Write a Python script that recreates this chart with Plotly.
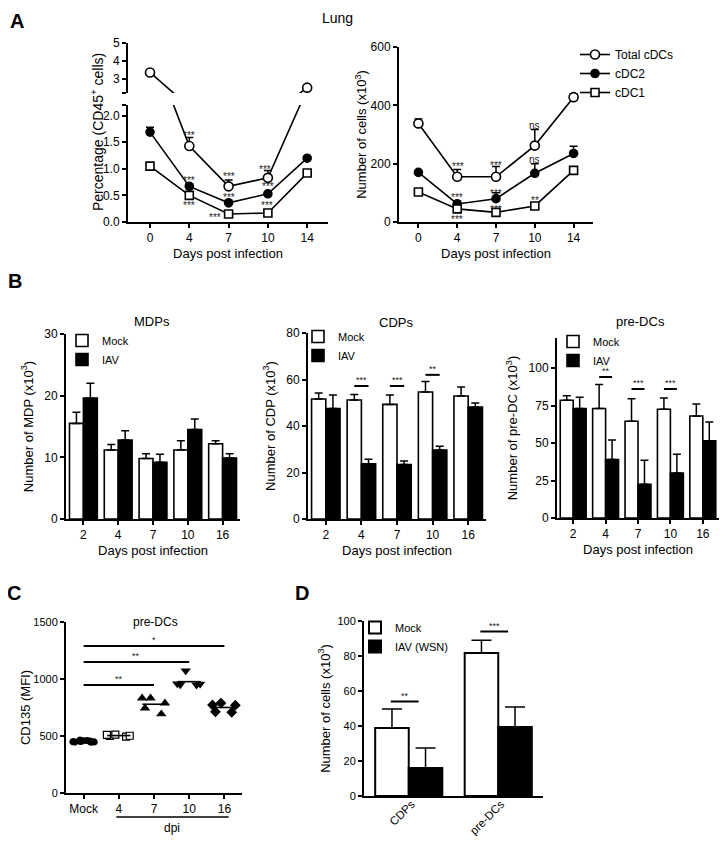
import numpy as np
import plotly.graph_objects as go

# page is 728x844; the html body has an 8px margin on every side, so the figure
# is sized to fit inside it without scrollbars and drawn at page offset (8, 8)
PAGE_W, PAGE_H = 728, 844
OX, OY = 8, 8
W, H = PAGE_W - 2 * OX, PAGE_H - 2 * OY
FONT = "Arial, 'Liberation Sans', Helvetica, sans-serif"

# ---------------- Panel A data ----------------
A_days = ["0", "4", "7", "10", "14"]
pct_total = [3.35, 1.43, 0.67, 0.83, 2.5]
pct_total_err = [0.05, 0.16, 0.12, 0.14, 0.05]
pct_cdc2 = [1.69, 0.67, 0.36, 0.53, 1.2]
pct_cdc2_err = [0.09, 0.05, 0.05, 0.03, 0.02]
pct_cdc1 = [1.05, 0.5, 0.15, 0.17, 0.92]
pct_cdc1_err = [0.03, 0.03, 0.02, 0.02, 0.02]

num_total = [338, 155, 155, 262, 428]
num_total_err = [15, 25, 35, 55, 12]
num_cdc2 = [170, 62, 80, 167, 235]
num_cdc2_err = [4, 10, 20, 33, 25]
num_cdc1 = [103, 45, 33, 55, 177]
num_cdc1_err = [4, 4, 4, 5, 8]

pct_sig_x = [1, 1, 1, 2, 2, 1.66, 2.93, 3.0, 2.98]
pct_sig_y = [1.67, 0.82, 0.35, 0.90, 0.49, 0.13, 1.03, 0.70, 0.34]
pct_sig_text = ["***"] * 9

num_sig_x = [1.03, 2.0, 3.0, 1.0, 2.0, 3.0, 1.0, 2.0, 3.0]
num_sig_y = [198, 202, 332, 92, 106, 215, 14, 51, 79]
num_sig_text = ["***", "***", "ns", "***", "***", "ns", "***", "***", "**"]

# ---------------- Panel B data ----------------
B_days = ["2", "4", "7", "10", "16"]
mdp_mock = [15.5, 11.2, 9.8, 11.2, 12.2]
mdp_mock_err = [1.8, 0.9, 0.8, 1.5, 0.5]
mdp_iav = [19.6, 12.8, 9.2, 14.5, 9.9]
mdp_iav_err = [2.4, 1.5, 1.3, 1.7, 0.7]

cdp_mock = [51.6, 51.2, 49.3, 54.6, 52.9]
cdp_mock_err = [2.6, 2.4, 4.0, 4.5, 3.9]
cdp_iav = [47.5, 23.7, 23.4, 29.7, 48.2]
cdp_iav_err = [5.8, 2.0, 1.5, 1.6, 1.7]
cdp_sig_idx = [1, 2, 3]
cdp_sig_h = [57.2, 57.2, 62.0]
cdp_sig_text = ["***", "***", "**"]

predc_mock = [78.5, 73.0, 64.5, 72.5, 68.0]
predc_mock_err = [3.0, 16.0, 15.0, 7.5, 8.0]
predc_iav = [73.0, 39.0, 22.5, 30.0, 51.5]
predc_iav_err = [7.5, 13.0, 16.0, 12.5, 12.5]
predc_sig_idx = [1, 2, 3]
predc_sig_h = [94.0, 86.0, 86.0]
predc_sig_text = ["**", "***", "***"]

# ---------------- Panel C data ----------------
C_groups = ["Mock", "4", "7", "10", "16"]
mfi_mock = [465, 458, 452, 448, 445, 447, 450, 455, 460]
mfi_d4 = [512, 500, 495, 502, 510]
mfi_d7 = [833, 693, 789, 745, 833]
mfi_d10 = [1072, 950, 955, 948, 958]
mfi_d16 = [770, 789, 712, 708, 772]
c_sig_to = [2, 3, 4]
c_sig_h = [947, 1150, 1290]
c_sig_text = ["**", "**", "*"]

# ---------------- Panel D data ----------------
D_cats = ["CDPs", "pre-DCs"]
d_mock = [38.9, 81.7]
d_mock_err = [10.8, 7.3]
d_iav = [16.0, 39.4]
d_iav_err = [11.4, 11.4]
d_sig_idx = [0, 1]
d_sig_h = [54.0, 94.0]
d_sig_text = ["**", "***"]


def X(px):
    return (px - OX) / W


def Y(py):
    return 1 - (py - OY) / H


def xd(a, b):
    return [X(a), X(b)]


def yd(top, bottom):
    return [Y(bottom), Y(top)]


def up_err(err, width=4):
    return dict(type="data", array=err, arrayminus=[0] * len(err), symmetric=False,
                color="black", thickness=1.5, width=width)


SIGC = "#222222"
fig = go.Figure()

# ---------- Panel A (left: broken axis y lower + y2 upper; right: y3) ----------
xa = np.arange(len(A_days))
series_A = [
    ("Total cDCs", pct_total, pct_total_err, num_total, num_total_err, "circle", "white", 9),
    ("cDC2", pct_cdc2, pct_cdc2_err, num_cdc2, num_cdc2_err, "circle", "black", 8),
    ("cDC1", pct_cdc1, pct_cdc1_err, num_cdc1, num_cdc1_err, "square", "white", 8),
]
for name, pv, pe, nv, ne, sym, fill, size in series_A:
    mk = dict(symbol=sym, size=size, color=fill, line=dict(color="black", width=1.6))
    ln = dict(color="black", width=1.6)
    fig.add_trace(go.Scatter(x=xa, y=pv, mode="lines+markers", marker=mk, line=ln,
                             error_y=up_err(pe), xaxis="x", yaxis="y", showlegend=False, name=name))
    if name == "Total cDCs":
        fig.add_trace(go.Scatter(x=xa, y=pv, mode="lines+markers", marker=mk, line=ln,
                                 error_y=up_err(pe), xaxis="x", yaxis="y2", showlegend=False, name=name))
    fig.add_trace(go.Scatter(x=xa, y=nv, mode="lines+markers", marker=mk, line=ln,
                             error_y=up_err(ne), xaxis="x2", yaxis="y3", showlegend=True,
                             legend="legend", name=name))

for x, y, t in zip(pct_sig_x, pct_sig_y, pct_sig_text):
    fig.add_annotation(x=x, y=y, xref="x", yref="y", text=t, showarrow=False, xanchor="center",
                       yanchor="middle", font=dict(size=10, color=SIGC, family=FONT), yshift=-2)
for x, y, t in zip(num_sig_x, num_sig_y, num_sig_text):
    fig.add_annotation(x=x, y=y, xref="x2", yref="y3", text=t, showarrow=False, xanchor="center",
                       yanchor="middle", font=dict(size=10, color=SIGC, family=FONT),
                       yshift=-2 if "*" in t else 0)

# ---------- Panel B ----------
xb = np.arange(len(B_days))
B_sets = [
    ("x3", "y4", "legend2", mdp_mock, mdp_mock_err, mdp_iav, mdp_iav_err, [], [], []),
    ("x4", "y5", "legend3", cdp_mock, cdp_mock_err, cdp_iav, cdp_iav_err, cdp_sig_idx, cdp_sig_h, cdp_sig_text),
    ("x5", "y6", "legend4", predc_mock, predc_mock_err, predc_iav, predc_iav_err, predc_sig_idx, predc_sig_h, predc_sig_text),
]
for xax, yax, leg, mv, me, iv, ie, sidx, sh, st in B_sets:
    fig.add_trace(go.Bar(x=xb, y=mv, name="Mock", marker=dict(color="white", line=dict(color="black", width=1.6)),
                         error_y=up_err(me), xaxis=xax, yaxis=yax, legend=leg))
    fig.add_trace(go.Bar(x=xb, y=iv, name="IAV", marker=dict(color="black", line=dict(color="black", width=1.6)),
                         error_y=up_err(ie), xaxis=xax, yaxis=yax, legend=leg))
    for i, h, t in zip(sidx, sh, st):
        fig.add_shape(type="line", xref=xax, yref=yax, x0=i - 0.2, x1=i + 0.2, y0=h, y1=h,
                      line=dict(color="black", width=2))
        fig.add_annotation(x=i, y=h, xref=xax, yref=yax, text=t, showarrow=False, xanchor="center",
                           yanchor="bottom", font=dict(size=9, color=SIGC, family=FONT), yshift=-1)

# ---------- Panel C ----------
C_vals = [mfi_mock, mfi_d4, mfi_d7, mfi_d10, mfi_d16]
C_markers = [("circle", "black", 6), ("square", "white", 7), ("triangle-up", "black", 7),
             ("triangle-down", "black", 7), ("diamond", "black", 7)]
for i, (vals, (sym, fill, size)) in enumerate(zip(C_vals, C_markers)):
    fig.add_trace(go.Box(x=[i] * len(vals), y=vals, boxpoints="all", jitter=1.0, pointpos=0,
                         width=0.8, fillcolor="rgba(0,0,0,0)", line=dict(width=0),
                         marker=dict(symbol=sym, size=size, color=fill, line=dict(color="black", width=1.2)),
                         xaxis="x6", yaxis="y7", showlegend=False, hoverinfo="y"))
    m = float(np.mean(vals))
    fig.add_trace(go.Scatter(x=[i - 0.33, i + 0.33], y=[m, m], mode="lines",
                             line=dict(color="black", width=1.6), xaxis="x6", yaxis="y7", showlegend=False))
for j, h, t in zip(c_sig_to, c_sig_h, c_sig_text):
    fig.add_shape(type="line", xref="x6", yref="y7", x0=0, x1=j, y0=h, y1=h, line=dict(color="black", width=2))
    fig.add_annotation(x=j / 2, y=h, xref="x6", yref="y7", text=t, showarrow=False, xanchor="center",
                       yanchor="bottom", font=dict(size=9, color=SIGC, family=FONT), yshift=-1)
# dpi bracket
fig.add_shape(type="line", xref="x6", yref="paper", x0=0.93, x1=4.12, y0=Y(817), y1=Y(817),
              line=dict(color="black", width=1.5))
fig.add_annotation(x=2.5, y=Y(828), xref="x6", yref="paper", text="dpi", showarrow=False,
                   xanchor="center", yanchor="middle", font=dict(size=12, color="black", family=FONT))

# ---------- Panel D ----------
xdv = np.arange(len(D_cats))
fig.add_trace(go.Bar(x=xdv, y=d_mock, name="Mock", width=0.375, offset=-0.375,
                     marker=dict(color="white", line=dict(color="black", width=2)),
                     error_y=up_err(d_mock_err, 10), xaxis="x7", yaxis="y8", legend="legend5"))
fig.add_trace(go.Bar(x=xdv, y=d_iav, name="IAV (WSN)", width=0.375, offset=0,
                     marker=dict(color="black", line=dict(color="black", width=2)),
                     error_y=up_err(d_iav_err, 10), xaxis="x7", yaxis="y8", legend="legend5"))
for i, h, t in zip(d_sig_idx, d_sig_h, d_sig_text):
    fig.add_shape(type="line", xref="x7", yref="y8", x0=i - 0.2, x1=i + 0.11, y0=h, y1=h,
                  line=dict(color="black", width=2))
    fig.add_annotation(x=i - 0.045, y=h, xref="x7", yref="y8", text=t, showarrow=False, xanchor="center",
                       yanchor="bottom", font=dict(size=9, color=SIGC, family=FONT), yshift=-1)

# ---------- Axes ----------
tickf = dict(size=12, color="black", family=FONT)
base = dict(showline=True, linecolor="black", linewidth=2, ticks="outside", ticklen=4, tickwidth=1.5,
            tickcolor="black", showgrid=False, zeroline=False, tickfont=tickf, mirror=False,
            automargin=False)
xt = dict(text="Days post infection", font=dict(size=13, color="black", family=FONT), standoff=4)


def yt(text, standoff=8):
    return dict(text=text, font=dict(size=13, family=FONT, color="black"), standoff=standoff)


fig.update_layout(
    xaxis=dict(base, domain=xd(128, 328), anchor="y", range=[-0.56, 4.53],
               tickvals=list(xa), ticktext=A_days, title=xt),
    yaxis=dict(base, domain=yd(105, 222), anchor="x", range=[0, 2.2],
               tickvals=[0, 0.5, 1.0, 1.5, 2.0, 2.2], ticktext=["0.0", "0.5", "1.0", "1.5", "2.0", " "]),
    yaxis2=dict(base, domain=yd(43, 93), anchor="x", range=[2.2, 5],
                tickvals=[2.2, 3, 4, 5], ticktext=[" ", "3", "4", "5"]),
    xaxis2=dict(base, domain=xd(399, 593), anchor="y3", range=[-0.5, 4.5],
                tickvals=list(xa), ticktext=A_days, title=xt),
    yaxis3=dict(base, domain=yd(47, 222), anchor="x2", range=[0, 600], tickvals=[0, 200, 400, 600],
                title=yt("Number of cells (x10<sup>3</sup>)", 1)),
    xaxis3=dict(base, domain=xd(66, 240), anchor="y4", range=[-0.5, 4.5],
                tickvals=list(xb), ticktext=B_days, title=xt),
    yaxis4=dict(base, domain=yd(334, 519), anchor="x3", range=[0, 30], tickvals=[0, 10, 20, 30],
                title=yt("Number of MDP (x10<sup>3</sup>)")),
    xaxis4=dict(base, domain=xd(308, 486), anchor="y5", range=[-0.5, 4.5],
                tickvals=list(xb), ticktext=B_days, title=xt),
    yaxis5=dict(base, domain=yd(333, 519), anchor="x4", range=[0, 80], tickvals=[0, 20, 40, 60, 80],
                title=yt("Number of CDP (x10<sup>3</sup>)")),
    xaxis5=dict(base, domain=xd(557, 719), anchor="y6", range=[-0.5, 4.5],
                tickvals=list(xb), ticktext=B_days, title=xt),
    yaxis6=dict(base, domain=yd(338, 518), anchor="x5", range=[0, 120], tickvals=[0, 25, 50, 75, 100],
                title=yt("Number of pre-DC (x10<sup>3</sup>)")),
    xaxis6=dict(base, domain=xd(66, 242), anchor="y7", range=[-0.5, 4.5],
                tickvals=list(range(len(C_groups))), ticktext=C_groups),
    yaxis7=dict(base, domain=yd(622, 793), anchor="x6", range=[0, 1500], tickvals=[0, 500, 1000, 1500],
                tickfont=dict(size=11, color="black", family=FONT), title=yt("CD135 (MFI)", 0)),
    xaxis7=dict(base, domain=xd(364, 543), anchor="y8", range=[-0.5, 1.5],
                tickvals=list(xdv + 0.03), ticktext=D_cats, tickangle=-45, ticks="", ticklen=0,
                ticklabelstandoff=-5, tickfont=dict(size=11.5, color="black", family=FONT)),
    yaxis8=dict(base, domain=yd(621, 796), anchor="x7", range=[0, 100], tickvals=[0, 20, 40, 60, 80, 100],
                tickfont=dict(size=11, color="black", family=FONT),
                title=yt("Number of cells (x10<sup>3</sup>)", 4)),
)

leg_common = dict(bgcolor="rgba(0,0,0,0)", borderwidth=0, tracegroupgap=0, itemwidth=30,
                  xanchor="left", yanchor="top", orientation="v")
fig.update_layout(
    legend=dict(leg_common, x=X(575), y=Y(40), font=dict(size=12, family=FONT, color="black")),
    legend2=dict(leg_common, x=X(62), y=Y(326), font=dict(size=11, family=FONT, color="black")),
    legend3=dict(leg_common, x=X(298), y=Y(322), font=dict(size=11, family=FONT, color="black")),
    legend4=dict(leg_common, x=X(553), y=Y(327), font=dict(size=11, family=FONT, color="black")),
    legend5=dict(leg_common, x=X(355), y=Y(613), font=dict(size=11, family=FONT, color="black")),
)

# y title for the broken axis (spans both segments)
fig.add_annotation(x=X(97), y=Y(132), xref="paper", yref="paper", text="Percentage (CD45<sup>+</sup> cells)",
                   textangle=-90, showarrow=False, xanchor="center", yanchor="middle",
                   font=dict(size=14, family=FONT, color="black"))

# top title and panel letter A: anchored to their top edge so they stay inside the figure
fig.add_annotation(x=X(337), y=1, xref="paper", yref="paper", text="Lung", showarrow=False,
                   xanchor="center", yanchor="top", font=dict(size=14, family=FONT, color="black"))
fig.add_annotation(x=X(17), y=1, xref="paper", yref="paper", text="<b>A</b>", showarrow=False,
                   xanchor="center", yanchor="top", font=dict(size=20, family=FONT, color="black"))

# other titles
for txt, px, py, sz in [("MDPs", 152, 321, 13), ("CDPs", 396, 322, 13),
                        ("pre-DCs", 640, 321, 13), ("pre-DCs", 155, 622, 12)]:
    fig.add_annotation(x=X(px), y=Y(py), xref="paper", yref="paper", text=txt, showarrow=False,
                       xanchor="center", yanchor="middle", font=dict(size=sz, family=FONT, color="black"))
for txt, px, py in [("B", 15, 281), ("C", 14, 593), ("D", 302, 593)]:
    fig.add_annotation(x=X(px), y=Y(py), xref="paper", yref="paper", text="<b>%s</b>" % txt,
                       showarrow=False, xanchor="center", yanchor="middle",
                       font=dict(size=20, family=FONT, color="black"))

fig.update_layout(width=W, height=H, margin=dict(l=0, r=0, t=0, b=0, autoexpand=False), plot_bgcolor="white",
                  paper_bgcolor="white", barmode="group", bargap=0.2, bargroupgap=0, boxmode="overlay",
                  font=dict(family=FONT, color="black"), showlegend=True)

fig.write_html("out.html")
